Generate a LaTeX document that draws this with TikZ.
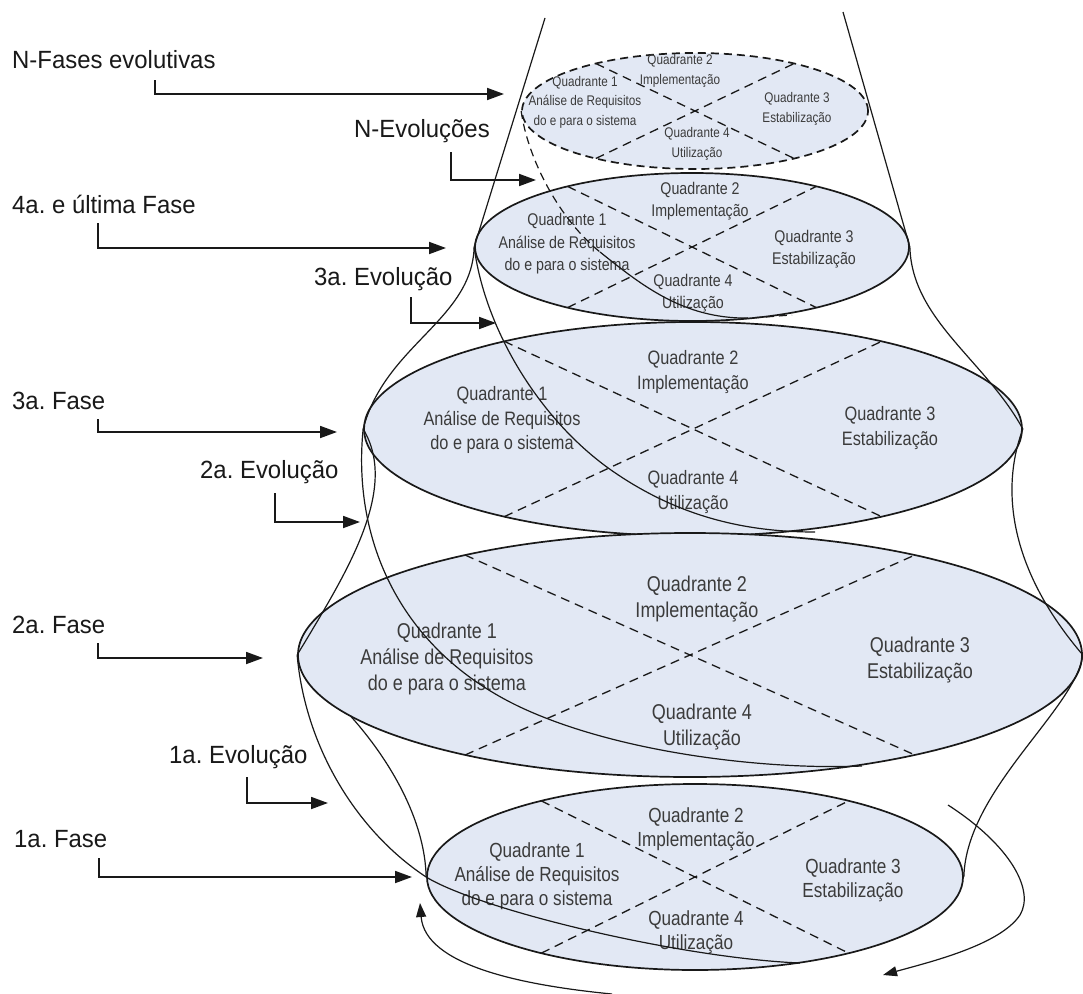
\documentclass[tikz,border=0pt]{standalone}
\usepackage{fontspec}
\setmainfont{Liberation Sans}
\newfontfamily\labelfont{Liberation Sans}[FakeStretch=0.96]
\newfontfamily\quadfont{Liberation Sans}[FakeStretch=0.84]
\usetikzlibrary{arrows.meta,calc,shapes.geometric}
\definecolor{phasefill}{RGB}{226,232,244}
\definecolor{ink}{RGB}{25,25,25}
\frenchspacing

% dashed X splitting a phase ellipse into its four quadrants
\newcommand\quadcross[3]{%
  \draw[quad] ($(#1.center)+(235:#2 and #3)$) -- ($(#1.center)+(55:#2 and #3)$);
  \draw[quad] ($(#1.center)+(125:#2 and #3)$) -- ($(#1.center)+(305:#2 and #3)$);}
% the four quadrant captions of one phase
\newcommand\quadtexts[6]{%
  \node[#1] (#2q1) at #3 {Quadrante 1\\Análise de Requisitos\\do e para o sistema};
  \node[#1] (#2q2) at #4 {Quadrante 2\\Implementação};
  \node[#1] (#2q3) at #5 {Quadrante 3\\Estabilização};
  \node[#1] (#2q4) at #6 {Quadrante 4\\Utilização};}

\begin{document}
\begin{tikzpicture}[x=1bp,y=-1bp,
  phase/.style={ellipse, draw=ink, line width=1.7bp, fill=phasefill, inner sep=0pt},
  quad/.style={draw=ink, line width=1.3bp, dash pattern=on 9bp off 6bp},
  curve/.style={draw=ink, line width=1.2bp},
  hidden/.style={curve, dash pattern=on 8bp off 5bp},
  larrow/.style={draw=ink, line width=1.8bp, -{Triangle[length=17bp,width=12bp]}},
  turn/.style={curve, -{Triangle[length=14bp,width=10bp]}},
  lab/.style={font=\labelfont\fontsize{25}{28}\selectfont, text=ink, anchor=base west, inner sep=0pt},
  qt/.style={align=center, text=ink!85, inner sep=0pt},
  qtA/.style={qt, font=\quadfont\fontsize{14}{19.5}\selectfont},
  qtB/.style={qt, font=\quadfont\fontsize{17}{22.5}\selectfont},
  qtC/.style={qt, font=\quadfont\fontsize{19.5}{24.5}\selectfont},
  qtD/.style={qt, font=\quadfont\fontsize{21.5}{26.5}\selectfont},
  qtE/.style={qt, font=\quadfont\fontsize{20.5}{24}\selectfont},
]
\fill[white] (0,0) rectangle (1083,994);
\useasboundingbox (0,0) rectangle (1083,994);

% phases, from the open top one down to the first
\node[phase, dash pattern=on 8bp off 5bp, minimum width=346bp, minimum height=116bp] (E5) at (695,111) {};
\node[phase, minimum width=434bp, minimum height=148bp] (E4) at (692,247) {};
\node[phase, minimum width=658bp, minimum height=214bp] (E3) at (693,429) {};
\node[phase, minimum width=784bp, minimum height=244bp] (E2) at (690,655) {};
\node[phase, minimum width=536bp, minimum height=186bp] (E1) at (695,877) {};

\quadcross{E5}{173}{58}
\quadcross{E4}{217}{74}
\quadcross{E3}{329}{107}
\quadcross{E2}{392}{122}
\quadcross{E1}{268}{93}

\quadtexts{qtA}{E5}{(585,102)}{(680,71)}{(797,109)}{(697,144)}
\quadtexts{qtB}{E4}{(567,244)}{(700,201)}{(814,249)}{(693,293)}
\quadtexts{qtC}{E3}{(502,420)}{(693,372)}{(890,428)}{(693,492)}
\quadtexts{qtD}{E2}{(447,659)}{(697,599)}{(920,660)}{(702,727)}
\quadtexts{qtE}{E1}{(537,876)}{(696,829)}{(853,880)}{(696,932)}

% open cone above the last phase
\coordinate (coneL) at (545,18);
\coordinate (coneR) at (843,12);
\draw[curve] (coneL) -- (E4.west);
\draw[curve] (coneR) -- (E4.east);

% envelope joining the tips of consecutive phases
\draw[curve] (E4.west) .. controls (472,320) and (385,345) .. (E3.west);
\draw[curve] (E4.east) .. controls (912,320) and (985,360) .. (E3.east);
\draw[curve] (E3.west) .. controls (400,490) and (345,575) .. (E2.west);
\draw[curve] (E3.east) .. controls (1000,490) and (1010,570) .. (E2.east);
\coordinate (E2low) at ($(E2.center)+(150:392 and 122)$);
\draw[curve] (E2low) .. controls (390,760) and (425,820) .. (E1.west);
\draw[curve] (E2.east) .. controls (1075,710) and (966,790) .. (E1.east);

% evolution spiral crossing each phase
\coordinate (h4a) at (600,252);
\coordinate (h4b) at (740,318);
\coordinate (h4c) at (792,315);
\draw[hidden] (E5.west) .. controls (528,160) and (560,220) .. (h4a);
\draw[curve] (h4a) .. controls (640,284) and (680,316) .. (h4b);
\draw[hidden] (h4b) .. controls (760,318) and (775,316) .. (h4c);

\coordinate (h3a) at (611,470);
\coordinate (h3b) at (815,532);
\draw[curve] (E4.west) .. controls (485,330) and (540,420) .. (h3a)
  .. controls (681,519) and (750,532) .. (h3b);

\coordinate (h2a) at (520,707);
\coordinate (h2b) at (862,766);
\draw[curve] (E3.west) .. controls (352,540) and (400,650) .. (h2a)
  .. controls (620,754) and (770,770) .. (h2b);

\coordinate (h1b) at (800,963);
\draw[curve] (E2.west) .. controls (305,745) and (355,830) .. (E1.west)
  .. controls (480,910) and (680,958) .. (h1b);

% turning arrows around the first phase
\coordinate (lp0) at (948,805);
\coordinate (lp1) at (1020,915);
\coordinate (lp2) at (883,975);
\draw[turn] (lp0) .. controls (1010,845) and (1035,890) .. (lp1)
  .. controls (1000,945) and (930,962) .. (lp2);
\coordinate (ba0) at (612,994);
\coordinate (ba1) at (420,903);
\draw[turn] (ba0) .. controls (520,985) and (425,965) .. (ba1);

% side captions and their pointers
\node[lab] (lNF) at (12,68) {N-Fases evolutivas};
\node[lab] (lNE) at (354,137) {N-Evoluções};
\node[lab] (l4F) at (12,213) {4a. e última Fase};
\node[lab] (l3E) at (314,285) {3a. Evolução};
\node[lab] (l3F) at (12,409) {3a. Fase};
\node[lab] (l2E) at (200,478) {2a. Evolução};
\node[lab] (l2F) at (12,633) {2a. Fase};
\node[lab] (l1E) at (169,763) {1a. Evolução};
\node[lab] (l1F) at (14,847) {1a. Fase};

\coordinate (sNF) at (155,80);  \coordinate (tNF) at (504,94);
\coordinate (sNE) at (451,152); \coordinate (tNE) at (536,180);
\coordinate (s4F) at (98,223);  \coordinate (t4F) at (446,248);
\coordinate (s3E) at (411,297); \coordinate (t3E) at (496,323);
\coordinate (s3F) at (98,419);  \coordinate (t3F) at (337,432);
\coordinate (s2E) at (275,493); \coordinate (t2E) at (360,522);
\coordinate (s2F) at (98,643);  \coordinate (t2F) at (263,658);
\coordinate (s1E) at (247,777); \coordinate (t1E) at (328,803);
\coordinate (s1F) at (99,858);  \coordinate (t1F) at (412,877);

\draw[larrow] (sNF) |- (tNF);
\draw[larrow] (sNE) |- (tNE);
\draw[larrow] (s4F) |- (t4F);
\draw[larrow] (s3E) |- (t3E);
\draw[larrow] (s3F) |- (t3F);
\draw[larrow] (s2E) |- (t2E);
\draw[larrow] (s2F) |- (t2F);
\draw[larrow] (s1E) |- (t1E);
\draw[larrow] (s1F) |- (t1F);
\end{tikzpicture}
\end{document}
